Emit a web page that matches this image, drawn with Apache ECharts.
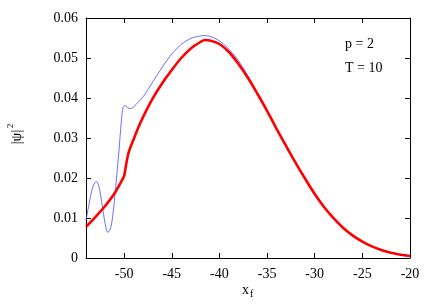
<!DOCTYPE html>
<html>
<head>
<meta charset="utf-8">
<script src="https://cdn.jsdelivr.net/npm/echarts@6/dist/echarts.min.js"></script>
<style>html,body{margin:0;padding:0;background:#fff;}#c{width:436px;height:305px;}</style>
</head>
<body>
<div id="c"></div>
<script>
// x positions and |psi|^2 values
var redX = [-54, -53, -52, -51, -50.1, -50, -49.85, -49.7, -49.5, -49, -48.5, -48, -47, -46, -45, -44, -43, -42, -41.5, -41, -40, -39, -38, -37, -36, -35, -34, -33, -32, -31, -30, -29, -28, -27, -26, -25, -24, -23, -22, -21, -20];
var redY = [0.0078, 0.0103, 0.0130, 0.0162, 0.0200, 0.0205, 0.0225, 0.0245, 0.0266, 0.0297, 0.0327, 0.0353, 0.0399, 0.0437, 0.0470, 0.0500, 0.0524, 0.0540, 0.0545, 0.0544, 0.0535, 0.0515, 0.0485, 0.0450, 0.0410, 0.0368, 0.0323, 0.0280, 0.0238, 0.0198, 0.0160, 0.0127, 0.0099, 0.0075, 0.0056, 0.0041, 0.0029, 0.0020, 0.0013, 0.0008, 0.0005];
var blueX = [-54, -53.7, -53.4, -53.1, -52.9, -52.6, -52.3, -52.0, -51.7, -51.4, -51.1, -50.8, -50.5, -50.3, -50.1, -49.9, -49.6, -49.3, -49.0, -48.5, -48, -47, -46, -45, -44, -43, -42, -41.5, -41, -40, -39, -38, -37, -36, -35, -34, -33, -32, -31, -30, -29, -28, -27, -26, -25, -24, -23, -22, -21, -20];
var blueY = [0.0095, 0.0132, 0.0168, 0.0188, 0.0191, 0.0174, 0.0132, 0.0087, 0.0064, 0.0076, 0.0125, 0.0200, 0.0280, 0.0340, 0.0377, 0.0381, 0.0375, 0.0374, 0.0378, 0.0390, 0.0403, 0.0440, 0.0477, 0.0510, 0.0534, 0.0549, 0.0555, 0.0556, 0.0554, 0.0543, 0.0522, 0.0493, 0.0455, 0.0411, 0.0368, 0.0323, 0.0280, 0.0238, 0.0198, 0.0160, 0.0127, 0.0099, 0.0075, 0.0056, 0.0041, 0.0029, 0.0020, 0.0013, 0.0008, 0.0005];
var xTicks = [-50, -45, -40, -35, -30, -25, -20];
var yTicks = [0, 0.01, 0.02, 0.03, 0.04, 0.05, 0.06];
var xLabel = 'x';
var xLabelSub = 'f';
var yLabel = '|ψ|';
var yLabelSup = '2';
var notes = ['p = 2', 'T = 10'];

function pairs(xs, ys) { return xs.map(function (x, i) { return [x, ys[i]]; }); }
var FONT = 'Liberation Serif';
var axisCommon = {
  axisLine: { show: true, onZero: false, lineStyle: { color: '#000', width: 1 } },
  splitLine: { show: false },
  axisTick: { show: true, inside: true, length: 5, lineStyle: { color: '#000', width: 1 } }
};
var chart = echarts.init(document.getElementById('c'), null, { renderer: 'canvas' });
chart.setOption({
  animation: false,
  backgroundColor: '#fff',
  grid: { left: 86, right: 26, top: 18, bottom: 47 },
  xAxis: [
    Object.assign({}, axisCommon, {
      type: 'value', min: -54, max: -20, position: 'bottom',
      axisTick: Object.assign({}, axisCommon.axisTick, { customValues: xTicks }),
      axisLabel: { customValues: xTicks, fontFamily: FONT, fontSize: 14, color: '#000', margin: 9 }
    }),
    Object.assign({}, axisCommon, {
      type: 'value', min: -54, max: -20, position: 'top',
      axisTick: Object.assign({}, axisCommon.axisTick, { customValues: xTicks }),
      axisLabel: { show: false }
    })
  ],
  yAxis: [
    Object.assign({}, axisCommon, {
      type: 'value', min: 0, max: 0.06, position: 'left',
      axisTick: Object.assign({}, axisCommon.axisTick, { customValues: yTicks }),
      axisLabel: { customValues: yTicks, fontFamily: FONT, fontSize: 14, color: '#000', margin: 8,
        formatter: function (v) { return v === 0 ? '0' : v.toFixed(2); } }
    }),
    Object.assign({}, axisCommon, {
      type: 'value', min: 0, max: 0.06, position: 'right',
      axisTick: Object.assign({}, axisCommon.axisTick, { customValues: yTicks }),
      axisLabel: { show: false }
    })
  ],
  series: [
    { type: 'line', data: pairs(blueX, blueY), showSymbol: false, smooth: 0.35, clip: true,
      lineStyle: { color: '#4a4aff', width: 0.8 }, z: 2 },
    { type: 'line', data: pairs(redX, redY), showSymbol: false, smooth: 0.35, clip: true,
      lineStyle: { color: '#ff0000', width: 2.6 }, z: 3 }
  ],
  graphic: [
    { type: 'text', left: 345, top: 37, style: { text: notes[0], font: '14px "' + FONT + '"', fill: '#000' } },
    { type: 'text', left: 345, top: 61, style: { text: notes[1], font: '14px "' + FONT + '"', fill: '#000' } },
    { type: 'group', x: 242, y: 283, children: [
      { type: 'text', x: 0, y: 0, style: { text: xLabel, font: '14px "' + FONT + '"', fill: '#000' } },
      { type: 'text', x: 8, y: 6, style: { text: xLabelSub, font: '10px "' + FONT + '"', fill: '#000' } }
    ]},
    { type: 'group', x: 17, y: 137, rotation: Math.PI / 2, children: [
      { type: 'text', x: 0, y: 0, style: { text: yLabel, font: '14px "' + FONT + '"', fill: '#000', align: 'center', verticalAlign: 'middle' } },
      { type: 'text', x: 11, y: -6, style: { text: yLabelSup, font: '9px "' + FONT + '"', fill: '#000', align: 'center', verticalAlign: 'middle' } }
    ]}
  ]
});
</script>
</body>
</html>
